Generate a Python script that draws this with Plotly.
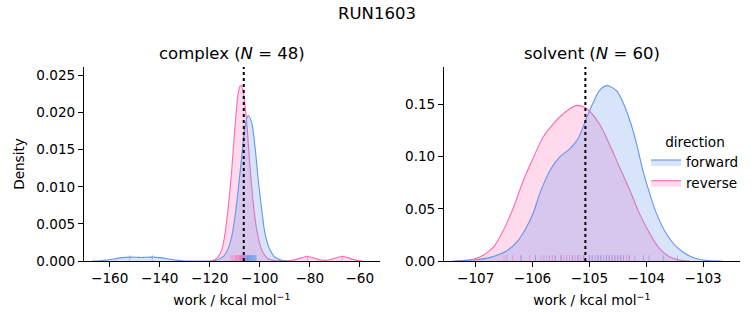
import plotly.graph_objects as go

# ---------------- data ----------------
complex_forward_x = [-167, -164, -161, -158, -155, -152, -149, -147.5, -146, -143, -140, -137, -134, -131, -128,
                     -124, -120, -117.9, -114.6, -112.6, -111.2, -109.9, -108.6, -107.2, -105.9, -104.6, -103.2,
                     -101.9, -100.6, -99.2, -97.9, -95.9, -93.9, -91.2, -89]
complex_forward_y = [0, 0.00004, 0.00013, 0.0003, 0.00045, 0.00052, 0.0005, 0.00048, 0.0005, 0.00052, 0.00045,
                     0.0003, 0.00013, 0.00004, 0, 0, 0, 0.00005, 0.0006, 0.0017, 0.0033, 0.006, 0.0096, 0.0141,
                     0.0181, 0.0196, 0.0186, 0.0154, 0.0109, 0.0069, 0.0037, 0.0015, 0.0005, 0.0001, 0]

complex_reverse_x = [-120, -117.2, -115.2, -113.9, -112.6, -111.2, -109.9, -108.5, -107.6, -106.6, -105.2, -103.9,
                     -102.6, -101.2, -99.2, -96.6, -94, -91, -89, -87, -85, -83, -81, -79, -77, -75, -74, -73,
                     -71, -69, -67, -65, -63, -61, -59]
complex_reverse_y = [0, 0.00036, 0.0015, 0.0037, 0.0073, 0.0123, 0.0181, 0.0228, 0.0237, 0.0228, 0.0186, 0.0127,
                     0.0078, 0.0042, 0.0015, 0.0003, 0.00005, 0.00001, 0.00002, 0.00008, 0.00025, 0.00048, 0.0006,
                     0.00048, 0.00025, 0.0001, 0.00008, 0.0001, 0.00025, 0.00048, 0.0006, 0.00048, 0.00025,
                     0.00008, 0]

solvent_forward_x = [-107.4, -107.03, -106.74, -106.45, -106.27, -106.10, -105.98, -105.87, -105.69, -105.52,
                     -105.34, -105.20, -105.05, -104.93, -104.82, -104.69, -104.52, -104.41, -104.29, -104.17,
                     -104.06, -103.94, -103.82, -103.65, -103.47, -103.24, -103.01, -102.66]
solvent_forward_y = [0, 0.001, 0.0035, 0.0099, 0.0185, 0.033, 0.047, 0.065, 0.087, 0.0997, 0.1077, 0.117, 0.137,
                     0.152, 0.1635, 0.168, 0.163, 0.152, 0.135, 0.1125, 0.087, 0.0647, 0.0456, 0.0265, 0.0137,
                     0.0048, 0.001, 0]

solvent_reverse_x = [-107.33, -107.03, -106.86, -106.68, -106.51, -106.33, -106.16, -105.98, -105.81, -105.63,
                     -105.46, -105.22, -105.05, -104.82, -104.64, -104.47, -104.29, -104.12, -103.94, -103.77,
                     -103.59, -103.42, -103.24]
solvent_reverse_y = [0, 0.0019, 0.0057, 0.0137, 0.0296, 0.052, 0.0774, 0.0997, 0.119, 0.1316, 0.141, 0.149,
                     0.146, 0.131, 0.111, 0.090, 0.068, 0.0456, 0.0265, 0.0121, 0.0041, 0.001, 0]

complex_forward_rug = [-152, -143, -107.5, -106.5, -106, -105.5, -105.2, -105, -104.8, -104.7, -104.5, -104.3,
                       -104.1, -103.9, -103.7, -103.5, -103.3, -103.1, -102.9, -102.6, -102.3, -102, -101.8, -101.5]
complex_reverse_rug = [-111.5, -110.8, -110.2, -109.7, -109.3, -109, -108.7, -108.4, -108.1, -107.9, -107.7,
                       -107.5, -107.3, -107.1, -106.9, -106.7, -106.5, -106.2, -105.9, -105.6, -105.3, -104.8,
                       -81, -67]
solvent_forward_rug = [-106.45, -106.2, -105.95, -105.8, -105.7, -105.6, -105.5, -105.4, -105.3, -105.2, -105.1,
                       -105.0, -104.95, -104.9, -104.85, -104.8, -104.75, -104.7, -104.65, -104.6, -104.55, -104.5,
                       -104.45, -104.4, -104.3, -104.2, -104.05, -103.95, -103.7, -103.45]
solvent_reverse_rug = [-106.5, -106.35, -106.2, -106.05, -105.95, -105.85, -105.75, -105.65, -105.6, -105.5,
                       -105.45, -105.35, -105.3, -105.25, -105.2, -105.15, -105.1, -105.0, -104.95, -104.85, -104.8,
                       -104.7, -104.65, -104.6, -104.55, -104.5, -104.45, -104.4, -104.35, -104.3]

complex_mark = -106.4
solvent_mark = -105.07

panel_titles = ["complex (<i>N</i> = 48)", "solvent (<i>N</i> = 60)"]
suptitle = "RUN1603"
directions = ["forward", "reverse"]
x_label = "work / kcal mol<sup>−1</sup>"
y_label = "Density"

complex_xticks = [-160, -140, -120, -100, -80, -60]
complex_yticks = [0, 0.005, 0.010, 0.015, 0.020, 0.025]
solvent_xticks = [-107, -106, -105, -104, -103]
solvent_yticks = [0, 0.05, 0.10, 0.15]

# ---------------- styling ----------------
FONT = "DejaVu Sans"
TICK_SIZE = 13.6
TITLE_SIZE = 16.5
LINE = {"forward": "#6495ED", "reverse": "#FF69B4"}
FILL = {"forward": "rgba(100,149,237,0.25)", "reverse": "rgba(255,105,180,0.25)"}
RUG = {"forward": "rgba(100,149,237,0.55)", "reverse": "rgba(255,105,180,0.55)"}

W, H = 753, 325
def px_x(a, b):
    return [a / W, b / W]
def px_y(top, bottom):
    return [1 - bottom / H, 1 - top / H]

fig = go.Figure()

panels = [
    dict(xa="x", ya="y",
         curves={"forward": (complex_forward_x, complex_forward_y), "reverse": (complex_reverse_x, complex_reverse_y)},
         rugs={"forward": complex_forward_rug, "reverse": complex_reverse_rug},
         mark=complex_mark, legend=False),
    dict(xa="x2", ya="y2",
         curves={"forward": (solvent_forward_x, solvent_forward_y), "reverse": (solvent_reverse_x, solvent_reverse_y)},
         rugs={"forward": solvent_forward_rug, "reverse": solvent_reverse_rug},
         mark=solvent_mark, legend=True),
]

for p in panels:
    # reverse drawn first so that forward sits on top (as seaborn does)
    for d in ["reverse", "forward"]:
        xs, ys = p["curves"][d]
        fig.add_trace(go.Scatter(
            x=xs, y=ys, xaxis=p["xa"], yaxis=p["ya"], mode="lines",
            line=dict(color=LINE[d], width=1.1, shape="spline", smoothing=0.8),
            fill="tozeroy", fillcolor=FILL[d], name=d, legendgroup=d,
            legendrank=1 if d == "forward" else 2,
            showlegend=p["legend"], hoverinfo="skip"))
    # rug ticks
    for d in ["reverse", "forward"]:
        for v in p["rugs"][d]:
            fig.add_shape(type="line", xref=p["xa"], yref=p["ya"] + " domain",
                          x0=v, x1=v, y0=0, y1=0.03,
                          line=dict(color=RUG[d], width=1), layer="above")
    # dotted vertical marker
    fig.add_shape(type="line", xref=p["xa"], yref=p["ya"] + " domain",
                  x0=p["mark"], x1=p["mark"], y0=0, y1=1,
                  line=dict(color="black", width=2, dash="dot"), layer="above")

axis_common = dict(showgrid=False, zeroline=False, showline=True, linecolor="black", linewidth=1,
                   ticks="outside", ticklen=5, tickwidth=1, tickcolor="black",
                   tickfont=dict(family=FONT, size=TICK_SIZE, color="black"), automargin=False, mirror=False)

fig.update_layout(
    width=W, height=H, margin=dict(l=0, r=0, t=0, b=0),
    paper_bgcolor="white", plot_bgcolor="white",
    font=dict(family=FONT, size=TICK_SIZE, color="black"),
    xaxis=dict(domain=px_x(84, 380), range=[-170.3, -51.9], tickvals=complex_xticks,
               title=dict(text=x_label, font=dict(family=FONT, size=TICK_SIZE), standoff=10), anchor="y", **axis_common),
    yaxis=dict(domain=px_y(67, 261), range=[0, 0.02613], tickvals=complex_yticks, tickformat=".3f",
               title=dict(text=y_label, font=dict(family=FONT, size=TICK_SIZE), standoff=8), anchor="x", **axis_common),
    xaxis2=dict(domain=px_x(444, 740), range=[-107.557, -102.35], tickvals=solvent_xticks, tickformat="d",
                title=dict(text=x_label, font=dict(family=FONT, size=TICK_SIZE), standoff=10), anchor="y2", **axis_common),
    yaxis2=dict(domain=px_y(67, 261), range=[0, 0.1858], tickvals=solvent_yticks, tickformat=".2f",
                anchor="x2", **axis_common),
    legend=dict(x=646 / W, y=1 - 129 / H, xanchor="left", yanchor="top",
                bgcolor="rgba(0,0,0,0)", font=dict(family=FONT, size=TICK_SIZE),
                title=dict(text="direction", side="top center", font=dict(family=FONT, size=TICK_SIZE)),
                itemwidth=30, tracegroupgap=0),
    showlegend=True,
)

annotations = [
    dict(text=suptitle, x=0.5, y=1 - 13 / H, xref="paper", yref="paper", showarrow=False,
         font=dict(family=FONT, size=TITLE_SIZE), xanchor="center", yanchor="middle"),
    dict(text=panel_titles[0], x=(84 + 380) / 2 / W, y=1 - 54 / H, xref="paper", yref="paper", showarrow=False,
         font=dict(family=FONT, size=TITLE_SIZE), xanchor="center", yanchor="middle"),
    dict(text=panel_titles[1], x=(444 + 740) / 2 / W, y=1 - 54 / H, xref="paper", yref="paper", showarrow=False,
         font=dict(family=FONT, size=TITLE_SIZE), xanchor="center", yanchor="middle"),
]
fig.update_layout(annotations=annotations)

fig.write_html("out.html")
